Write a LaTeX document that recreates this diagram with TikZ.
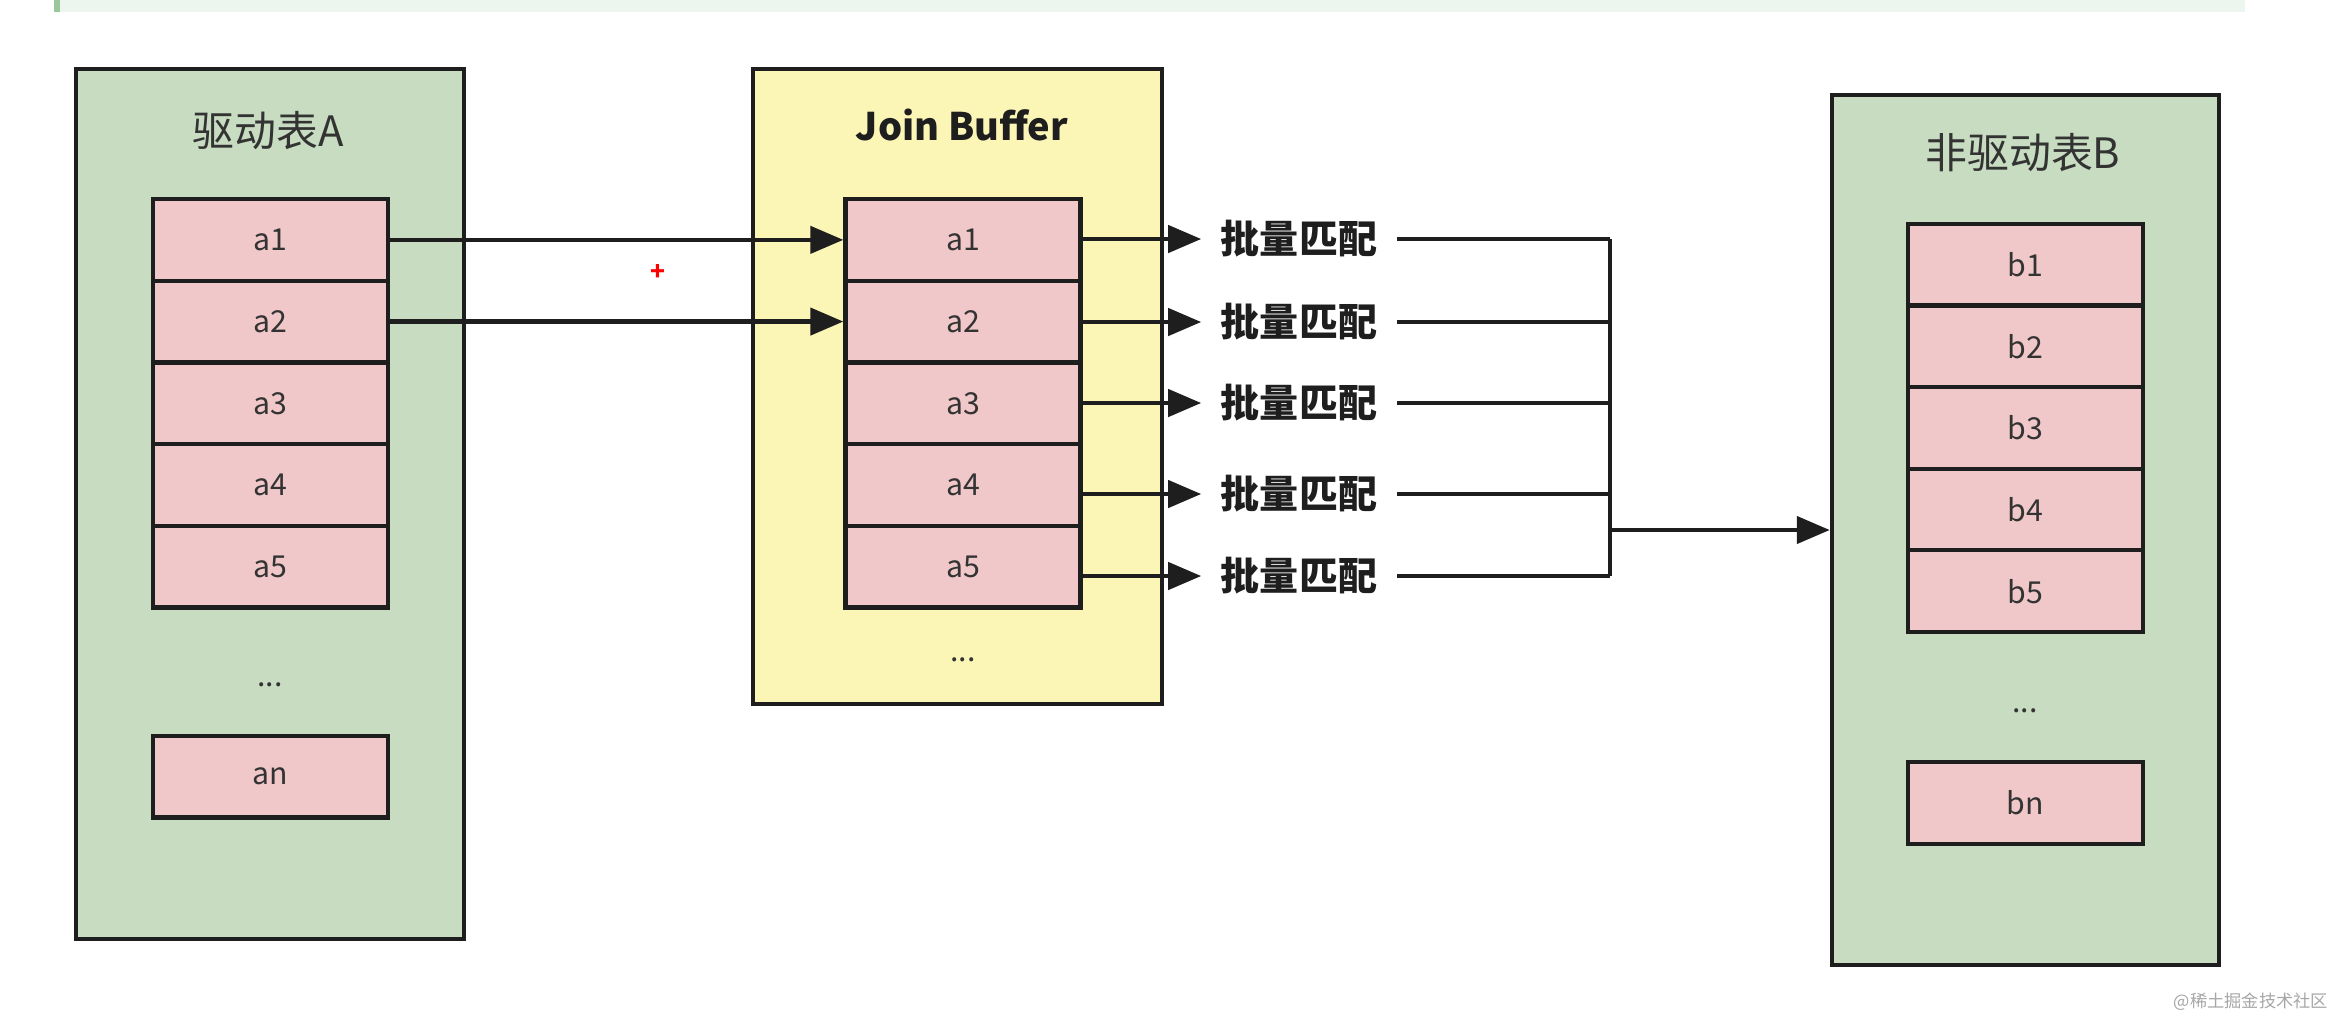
\documentclass[tikz,border=0pt]{standalone}
\usepackage{fontspec}
\setmainfont{Noto Sans CJK SC}
\usetikzlibrary{arrows.meta,positioning}
\definecolor{tblgreen}{HTML}{C7DCC1}
\definecolor{bufyellow}{HTML}{FBF5B6}
\definecolor{cellpink}{HTML}{F1C8C9}
\definecolor{edge}{HTML}{1E1E1E}
\definecolor{bandgreen}{HTML}{EDF5EF}

\tikzset{
  tbl/.style={draw=edge, line width=1.2pt, fill=tblgreen, inner sep=0pt},
  buf/.style={tbl, fill=bufyellow},
  cell/.style={draw=edge, line width=1.2pt, fill=cellpink, inner sep=0pt,
    minimum width=2.35cm, minimum height=0.817cm,
    font=\fontsize{8.6pt}{10pt}\selectfont, text=black!80},
  dots/.style={font=\fontsize{8.6pt}{10pt}\selectfont, text=black!80},
  title/.style={font=\fontsize{11.9pt}{14pt}\selectfont, text=black!80},
  match/.style={font=\fontsize{11.1pt}{13pt}\selectfont\bfseries, text=edge,
    inner xsep=0.19cm, inner ysep=0.05cm},
  link/.style={draw=edge, line width=1.25pt},
  arr/.style={link, -{Triangle[length=0.33cm,width=0.27cm]}},
}

\begin{document}
\begin{tikzpicture}[x=0.01cm,y=-0.01cm]
	\useasboundingbox (0,0) rectangle (2338,1020);
	% top band of the screenshot
	\fill[bandgreen] (54,0) rectangle (2245,12);
	\fill[black!55!green!40] (54,0) rectangle (60,12);

	% the three tables
	\node[tbl, minimum width=3.88cm, minimum height=8.70cm] (tabA) at (270,504) {};
	\node[buf, minimum width=4.09cm, minimum height=6.35cm] (buf) at (957.5,386.5) {};
	\node[tbl, minimum width=3.87cm, minimum height=8.70cm] (tabB) at (2025.5,530) {};

	\node[title] (titleA) at (268,131) {驱动表A};
	\node[title, font=\fontsize{10.8pt}{13pt}\selectfont\bfseries, text=edge] (titleJ) at (962,125) {Join Buffer};
	\node[title] (titleB) at (2023,153) {非驱动表B};

	% rows
	\foreach \i in {1,...,5} {
		\node[cell] (a\i) at (270.5,{199+81.7*(\i-0.5)}) {a\i};
		\node[cell] (j\i) at (963,{199+81.7*(\i-0.5)}) {a\i};
		\node[cell] (b\i) at (2025.5,{224+81.6*(\i-0.5)}) {b\i};
	}
	\node[cell] (an) at (270.5,776.5) {an};
	\node[cell] (bn) at (2025.5,803) {bn};
	\node[dots] (dotsA) at (270,685) {...};
	\node[dots] (dotsJ) at (963,660) {...};
	\node[dots] (dotsB) at (2025,711) {...};

	% into the join buffer
	\draw[arr] (a1.east) -- (j1.west);
	\draw[arr] (a2.east) -- (j2.west);
	\node[text=red, font=\fontsize{7pt}{8pt}\selectfont\bfseries] (cursor) at (658,272) {+};

	% batch matching
	\node[match] (m1) at (1299,239) {批量匹配};
	\node[match] (m2) at (1299,322) {批量匹配};
	\node[match] (m3) at (1299,403) {批量匹配};
	\node[match] (m4) at (1299,494) {批量匹配};
	\node[match] (m5) at (1299,576) {批量匹配};
	\coordinate (bus) at (1610,530);
	\foreach \i in {1,...,5} {
		\draw[arr] (j\i.east |- m\i.west) -- (m\i.west);
		\draw[link] (m\i.east) -- (m\i.east -| bus);
	}
	\draw[link] (m1.east -| bus) -- (m5.east -| bus);
	\draw[arr] (bus) -- (bus -| tabB.west);

	\node[text=black!35, font=\fontsize{4.9pt}{6pt}\selectfont] (mark) at (2251,1002) {@稀土掘金技术社区};
\end{tikzpicture}
\end{document}
